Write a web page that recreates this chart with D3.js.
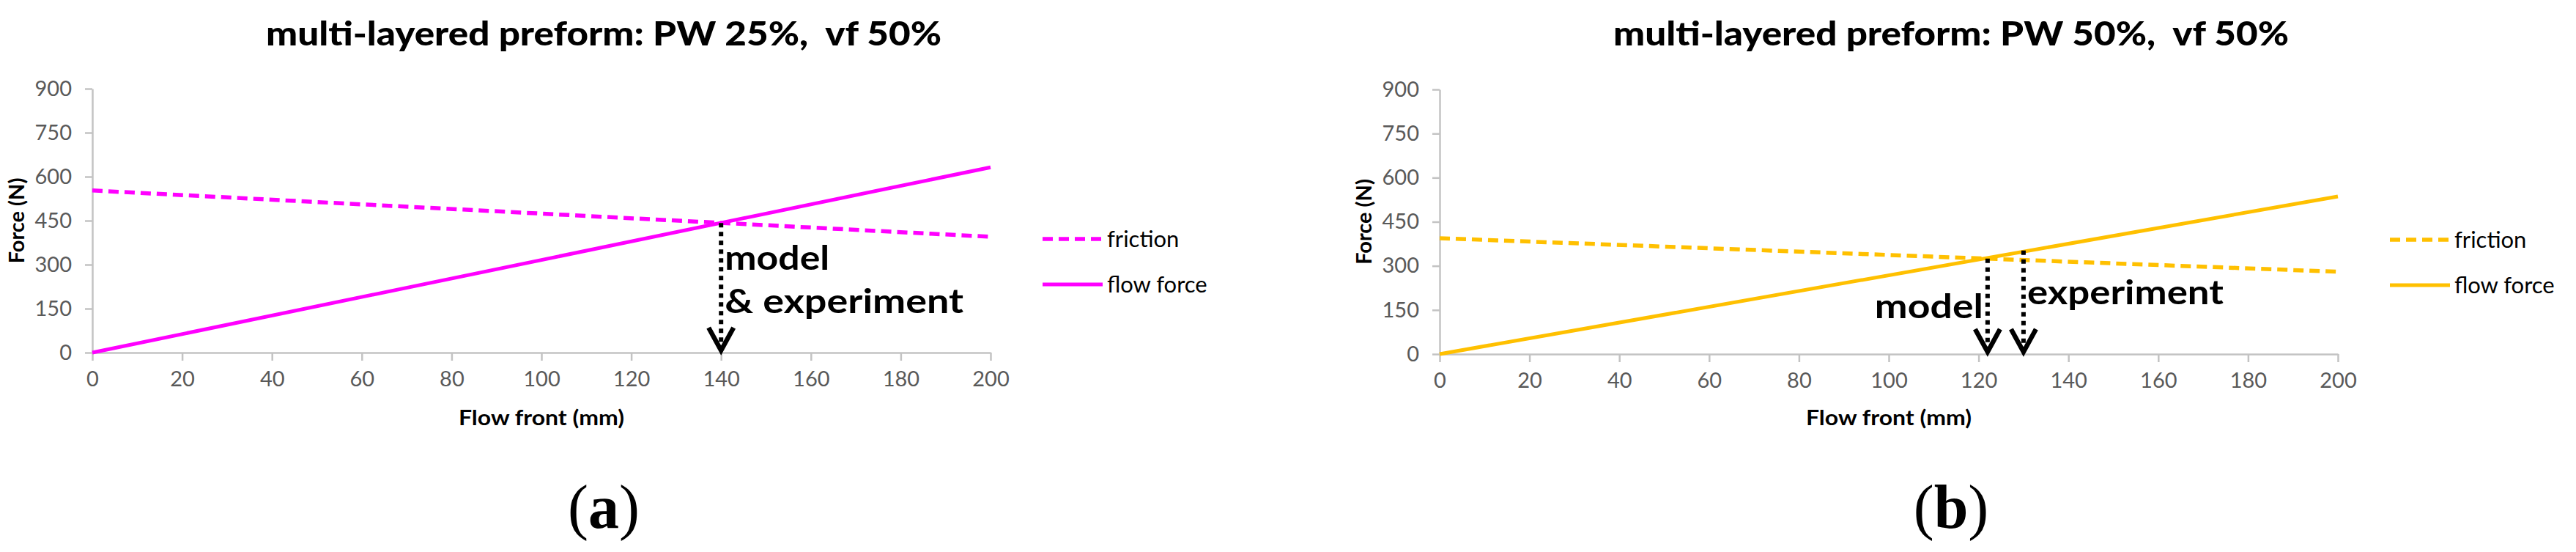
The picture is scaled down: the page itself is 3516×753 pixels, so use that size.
<!DOCTYPE html>
<html><head><meta charset="utf-8">
<script src="https://cdn.jsdelivr.net/npm/d3@7"></script>
<style>html,body{margin:0;padding:0;background:#fff;} svg{display:block;}</style>
</head><body>
<script>
// ---- data ----
const flowFront = [0, 200];
const frictionA = [553, 395];
const flowForceA = [0, 632];
const frictionB = [394, 280];
const flowForceB = [0, 536];
const xTickValues = [0, 20, 40, 60, 80, 100, 120, 140, 160, 180, 200];
const yTickValues = [0, 150, 300, 450, 600, 750, 900];
const seriesNames = ["friction", "flow force"];
const panelTitles = ["multi-layered preform: PW 25%,  vf 50%", "multi-layered preform: PW 50%,  vf 50%"];
const panelLetters = ["a", "b"];
const arrowsA = [{x: 140, y: 442}];
const arrowsB = [{x: 122, y: 325}, {x: 130, y: 352}];
const xTitle = "Flow front (mm)";
const yTitle = "Force (N)";

// ---- drawing ----
const W = 3516, H = 753;
const svg = d3.select("body").append("svg").attr("width", W).attr("height", H);
svg.append("rect").attr("width", W).attr("height", H).attr("fill", "#fff");

const FONT = "Lato, 'Open Sans', sans-serif";

const panels = [
  {left: 126, right: 1352, top: 121, bottom: 481, color: "#FF00FF",
   friction: frictionA, flow: flowForceA, title: panelTitles[0], letter: panelLetters[0], arrows: arrowsA,
   notes: [
     {text: "model", arrow: 0, side: "right", dy: 368, len: 143},
     {text: "& experiment", arrow: 0, side: "right", dy: 427, len: 326}
   ]},
  {left: 1965, right: 3191, top: 122, bottom: 483, color: "#FFC000",
   friction: frictionB, flow: flowForceB, title: panelTitles[1], letter: panelLetters[1], arrows: arrowsB,
   notes: [
     {text: "model", arrow: 0, side: "left", dy: 434, len: 148},
     {text: "experiment", arrow: 1, side: "right", dy: 415, len: 268}
   ]}
];

panels.forEach(p => {
  const g = svg.append("g");
  const x = d3.scaleLinear().domain([0, 200]).range([p.left, p.right]);
  const y = d3.scaleLinear().domain([0, 900]).range([p.bottom, p.top]);
  const cx = (p.left + p.right) / 2;

  // axes
  const xAxis = g.append("g").attr("transform", `translate(0,${p.bottom})`)
    .call(d3.axisBottom(x).tickValues(xTickValues).tickSize(11).tickSizeOuter(0).tickPadding(14));
  const yAxis = g.append("g").attr("transform", `translate(${p.left},0)`)
    .call(d3.axisLeft(y).tickValues(yTickValues).tickSize(10).tickSizeOuter(0).tickPadding(18));
  [xAxis, yAxis].forEach(a => {
    a.selectAll("path.domain").attr("stroke", "#c3c3c3").attr("stroke-width", 2.5);
    a.selectAll(".tick line").attr("stroke", "#c3c3c3").attr("stroke-width", 2.5);
    a.selectAll(".tick text").attr("fill", "#595959").attr("font-family", FONT).attr("font-size", 29);
  });
  xAxis.selectAll(".tick text").attr("dy", "0.71em");

  // series
  const line = d3.line().x(d => x(d[0])).y(d => y(d[1]));
  g.append("path").datum(flowFront.map((f, i) => [f, p.friction[i]]))
    .attr("d", line).attr("fill", "none").attr("stroke", p.color)
    .attr("stroke-width", 5.5).attr("stroke-dasharray", "14 8");
  g.append("path").datum(flowFront.map((f, i) => [f, p.flow[i]]))
    .attr("d", line).attr("fill", "none").attr("stroke", p.color)
    .attr("stroke-width", 5);

  // arrows
  p.arrows.forEach(a => {
    const ax = x(a.x);
    g.append("line").attr("x1", ax).attr("x2", ax).attr("y1", y(a.y)).attr("y2", y(0) - 3)
      .attr("stroke", "#000").attr("stroke-width", 6).attr("stroke-dasharray", "6 6");
    g.append("path")
      .attr("d", `M${ax - 17},${y(0) - 34} L${ax},${y(0) - 3} L${ax + 17},${y(0) - 34}`)
      .attr("fill", "none").attr("stroke", "#000").attr("stroke-width", 6.5)
      .attr("stroke-linejoin", "miter");
  });

  // annotation labels
  p.notes.forEach(n => {
    const ax = x(p.arrows[n.arrow].x);
    const tx = n.side === "right" ? ax + 5 : ax - 6 - n.len;
    g.append("text").attr("x", tx).attr("y", n.dy)
      .attr("font-family", FONT).attr("font-weight", 700).attr("font-size", 45)
      .attr("textLength", n.len).attr("lengthAdjust", "spacingAndGlyphs")
      .attr("fill", "#000").style("white-space", "pre").text(n.text);
  });

  // title
  const tLen = 922;
  g.append("text").attr("x", cx + 85 - tLen / 2).attr("y", 62)
    .attr("font-family", FONT).attr("font-weight", 900).attr("font-size", 46)
    .attr("textLength", tLen).attr("lengthAdjust", "spacingAndGlyphs")
    .style("white-space", "pre").attr("fill", "#000").text(p.title);

  // axis titles
  g.append("text").attr("x", cx - 113).attr("y", 580)
    .attr("font-family", FONT).attr("font-weight", 700).attr("font-size", 29)
    .attr("textLength", 226).attr("lengthAdjust", "spacingAndGlyphs")
    .attr("fill", "#000").text(xTitle);
  g.append("text").attr("transform", `translate(${p.left - 93},${(p.top + p.bottom) / 2}) rotate(-90)`)
    .attr("text-anchor", "middle")
    .attr("font-family", FONT).attr("font-weight", 700).attr("font-size", 29)
    .attr("fill", "#000").text(yTitle);

  // legend
  const lx0 = p.right + 71, lx1 = p.right + 153;
  const ly = [p.top + 205, p.top + 267];
  seriesNames.forEach((name, i) => {
    g.append("line").attr("x1", lx0).attr("x2", lx1).attr("y1", ly[i]).attr("y2", ly[i])
      .attr("stroke", p.color).attr("stroke-width", i === 0 ? 5.5 : 5)
      .attr("stroke-dasharray", i === 0 ? "14 8" : null);
    g.append("text").attr("x", lx1 + 6).attr("y", ly[i] + 11)
      .attr("font-family", FONT).attr("font-size", 31).attr("fill", "#000").text(name);
  });

  // panel letter
  const lt = g.append("text").attr("x", cx + 85).attr("y", 720).attr("text-anchor", "middle")
    .attr("font-family", "'Liberation Serif', 'Times New Roman', serif").attr("font-size", 84).attr("fill", "#000");
  lt.append("tspan").text("(");
  lt.append("tspan").attr("font-weight", 700).text(p.letter);
  lt.append("tspan").text(")");
});
</script>
</body></html>
